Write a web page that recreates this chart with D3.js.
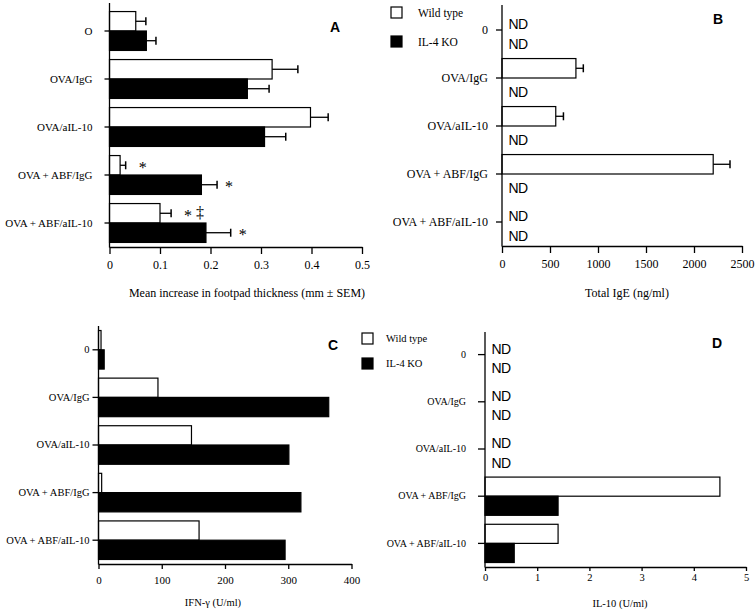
<!DOCTYPE html>
<html><head><meta charset="utf-8">
<script src="https://cdn.jsdelivr.net/npm/d3@7"></script>
<style>body{margin:0;background:#fff} svg{display:block}</style>
</head><body><svg width="755" height="611"></svg>
<script>
// ---------- data ----------
const categoriesA = ["O", "OVA/IgG", "OVA/aIL-10", "OVA + ABF/IgG", "OVA + ABF/aIL-10"];
const categories = ["0", "OVA/IgG", "OVA/aIL-10", "OVA + ABF/IgG", "OVA + ABF/aIL-10"];
const seriesNames = ["Wild type", "IL-4 KO"];

// A: footpad thickness (mm), mean and SEM
const footpadWT = [0.052, 0.322, 0.398, 0.021, 0.100];
const footpadWTSem = [0.020, 0.051, 0.035, 0.011, 0.022];
const footpadKO = [0.073, 0.273, 0.307, 0.182, 0.191];
const footpadKOSem = [0.019, 0.043, 0.042, 0.031, 0.049];
const footpadWTMarks = ["", "", "", "*", "*‡"];
const footpadKOMarks = ["", "", "", "*", "*"];

// B: total IgE (ng/ml); null = ND
const igeWT = [null, 770, 560, 2200, null];
const igeWTSem = [null, 77, 80, 175, null];
const igeKO = [null, null, null, null, null];

// C: IFN-gamma (U/ml)
const ifnWT = [4, 94, 147, 5, 159];
const ifnKO = [9, 364, 301, 320, 295];

// D: IL-10 (U/ml); null = ND
const il10WT = [null, null, null, 4.5, 1.4];
const il10KO = [null, null, null, 1.4, 0.56];

// ticks
const ticksA = [0, 0.1, 0.2, 0.3, 0.4, 0.5];
const tickLabelsA = ["0", "0.1", "0.2", "0.3", "0.4", "0.5"];
const ticksB = [0, 500, 1000, 1500, 2000, 2500];
const tickLabelsB = ["0", "500", "1000", "1500", "2000", "2500"];
const ticksC = [0, 100, 200, 300, 400];
const tickLabelsC = ["0", "100", "200", "300", "400"];
const ticksD = [0, 1, 2, 3, 4, 5];
const tickLabelsD = ["0", "1", "2", "3", "4", "5"];

// ---------- layout ----------
const serif = "'Liberation Serif','Times New Roman',Times,serif";
const sans = "'Liberation Sans',Arial,Helvetica,sans-serif";
const svg = d3.select("svg");

const panels = [
  {letter: "A", cats: categoriesA, wt: footpadWT, wtSem: footpadWTSem, ko: footpadKO, koSem: footpadKOSem,
   wtMarks: footpadWTMarks, koMarks: footpadKOMarks,
   ticks: ticksA, tickLabels: tickLabelsA, title: "Mean increase in footpad thickness (mm ± SEM)",
   x0: 109.5, x1: 362, yTop: 3, y0: 7, y1: 247, catFont: 11, tickFont: 12, titleFont: 12,
   ySize: 5, yPad: 12, xSize: 7, xPad: 6, titleX: 247, titleY: 297, letterX: 335, letterY: 32},
  {letter: "B", cats: categories, wt: igeWT, wtSem: igeWTSem, ko: igeKO, koSem: null,
   ticks: ticksB, tickLabels: tickLabelsB, title: "Total IgE (ng/ml)",
   x0: 502, x1: 742, yTop: 5, y0: 6, y1: 246, catFont: 12, tickFont: 12, titleFont: 12,
   ySize: 6, yPad: 8, xSize: 7, xPad: 6, titleX: 627, titleY: 297, letterX: 718, letterY: 24,
   legend: {x: 391, y: 7, gap: 29, textX: 418, font: 11.5}},
  {letter: "C", cats: categories, wt: ifnWT, wtSem: null, ko: ifnKO, koSem: null,
   ticks: ticksC, tickLabels: tickLabelsC, title: "IFN-γ (U/ml)",
   x0: 98.5, x1: 351.5, yTop: 326, y0: 326, y1: 564, catFont: 10.5, tickFont: 11, titleFont: 10.5,
   ySize: 6, yPad: 3, xSize: 5, xPad: 7, titleX: 213, titleY: 606, letterX: 333, letterY: 350,
   legend: {x: 362, y: 333, gap: 25, textX: 386, font: 10.5}},
  {letter: "D", cats: categories, wt: il10WT, wtSem: null, ko: il10KO, koSem: null,
   ticks: ticksD, tickLabels: tickLabelsD, title: "IL-10 (U/ml)",
   x0: 485, x1: 746, yTop: 332, y0: 331, y1: 567, catFont: 10, tickFont: 10.5, titleFont: 10.5,
   ySize: 7, yPad: 12, xSize: 4, xPad: 3, titleX: 620, titleY: 607, letterX: 717, letterY: 348}
];

function drawPanel(p) {
  const g = svg.append("g");
  const x = d3.scaleLinear().domain([p.ticks[0], p.ticks[p.ticks.length - 1]]).range([p.x0, p.x1]);
  const y = d3.scaleBand().domain(p.cats).range([p.y0, p.y1]).paddingInner(0.19).paddingOuter(0.095);
  const ys = d3.scaleBand().domain(["wt", "ko"]).range([0, y.bandwidth()]);

  // bars
  const series = [
    {key: "wt", vals: p.wt, sem: p.wtSem, fill: "#fff", marks: p.wtMarks, markOff: 13},
    {key: "ko", vals: p.ko, sem: p.koSem, fill: "#000", marks: p.koMarks, markOff: 8}
  ];
  series.forEach(s => {
    const rows = p.cats.map((c, i) => ({c, i, v: s.vals[i], e: s.sem ? s.sem[i] : null, m: s.marks ? s.marks[i] : ""}));
    const present = rows.filter(r => r.v !== null);
    g.selectAll(null).data(present).enter().append("rect")
      .attr("x", x(0))
      .attr("y", r => y(r.c) + ys(s.key))
      .attr("width", r => x(r.v) - x(0))
      .attr("height", ys.bandwidth())
      .attr("fill", s.fill).attr("stroke", "#000").attr("stroke-width", 1.2);
    const errs = present.filter(r => r.e !== null && r.e !== undefined);
    errs.forEach(r => {
      const cy = y(r.c) + ys(s.key) + ys.bandwidth() / 2;
      const xe = x(r.v + r.e);
      g.append("line").attr("x1", x(r.v)).attr("x2", xe).attr("y1", cy).attr("y2", cy)
        .attr("stroke", "#000").attr("stroke-width", 1.3);
      g.append("line").attr("x1", xe).attr("x2", xe).attr("y1", cy - 4).attr("y2", cy + 4)
        .attr("stroke", "#000").attr("stroke-width", 1.5);
    });
    // significance marks
    present.filter(r => r.m).forEach(r => {
      const cy = y(r.c) + ys(s.key) + ys.bandwidth() / 2;
      const xs = x(r.v + (r.e || 0)) + s.markOff;
      Array.from(r.m).forEach((ch, k) => {
        g.append("text").attr("x", xs + k * 12)
          .attr("y", cy + (ch === "*" ? 7.5 : 4.5))
          .attr("font-family", serif).attr("font-size", 16).attr("fill", "#000")
          .text(ch);
      });
    });
    // ND labels
    rows.filter(r => r.v === null).forEach(r => {
      const cy = y(r.c) + ys(s.key) + ys.bandwidth() / 2;
      g.append("text").attr("x", x(0) + 6.5).attr("y", cy + 9)
        .attr("font-family", sans).attr("font-size", 14).attr("letter-spacing", -0.5)
        .attr("fill", "#000").text("ND");
    });
  });

  // x axis
  const xAxis = d3.axisBottom(x).tickValues(p.ticks).tickFormat((d, i) => p.tickLabels[i])
    .tickSizeInner(p.xSize).tickSizeOuter(0).tickPadding(p.xPad);
  const gx = g.append("g").attr("transform", `translate(0,${p.y1})`).call(xAxis);
  gx.selectAll("path,line").attr("stroke", "#000").attr("stroke-width", 1.3);
  gx.selectAll("text").attr("font-family", serif).attr("font-size", p.tickFont).attr("fill", "#000");

  // y axis
  const yAxis = d3.axisLeft(y).tickSizeInner(p.ySize).tickSizeOuter(0).tickPadding(p.yPad);
  const gy = g.append("g").attr("transform", `translate(${p.x0},0)`).call(yAxis);
  gy.select(".domain").remove();
  gy.selectAll("line").attr("stroke", "#000").attr("stroke-width", 1.3);
  gy.selectAll("text").attr("font-family", serif).attr("font-size", p.catFont).attr("fill", "#000");
  g.append("line").attr("x1", p.x0).attr("x2", p.x0).attr("y1", p.yTop).attr("y2", p.y1 + 0.6)
    .attr("stroke", "#000").attr("stroke-width", 1.3);

  // title
  g.append("text").attr("x", p.titleX).attr("y", p.titleY).attr("text-anchor", "middle")
    .attr("font-family", serif).attr("font-size", p.titleFont).attr("fill", "#000").text(p.title);
  // letter
  g.append("text").attr("x", p.letterX).attr("y", p.letterY).attr("text-anchor", "middle")
    .attr("font-family", sans).attr("font-weight", "bold").attr("font-size", 14).attr("fill", "#000").text(p.letter);

  // legend
  if (p.legend) {
    const L = p.legend;
    seriesNames.forEach((name, k) => {
      const yy = L.y + k * L.gap;
      g.append("rect").attr("x", L.x).attr("y", yy).attr("width", 11).attr("height", 11)
        .attr("fill", k === 0 ? "#fff" : "#000").attr("stroke", "#000").attr("stroke-width", 1.2);
      g.append("text").attr("x", L.textX).attr("y", yy + 5.5).attr("dy", "0.35em")
        .attr("font-family", serif).attr("font-size", L.font).attr("fill", "#000").text(name);
    });
  }
}

panels.forEach(drawPanel);
</script>
</body></html>
